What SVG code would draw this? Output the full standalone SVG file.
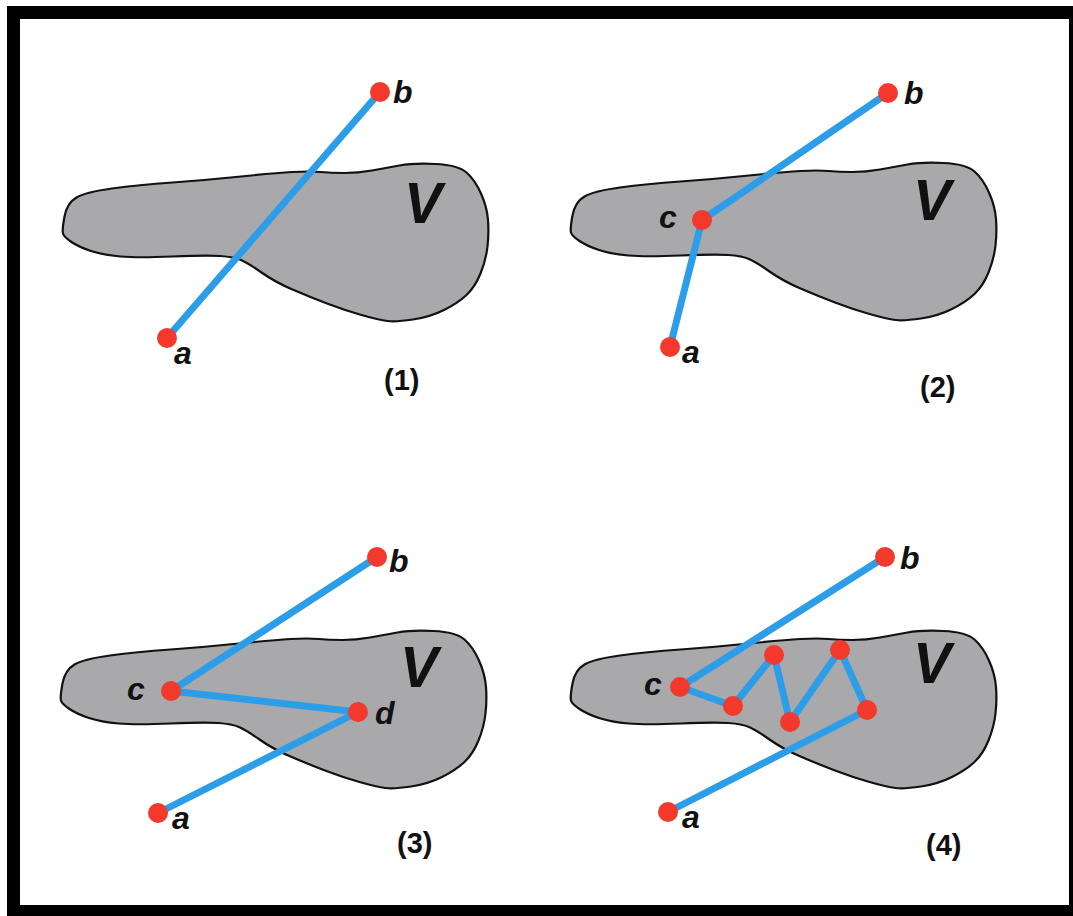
<svg xmlns="http://www.w3.org/2000/svg" xmlns:xlink="http://www.w3.org/1999/xlink" width="1073" height="916" viewBox="0 0 1073 916">
<style>
.blob{fill:#a9a8aa;stroke:#111;stroke-width:2.2;stroke-linejoin:round}
.edge{stroke:#2b9de9;stroke-width:7;stroke-linecap:round;fill:none}
.dot{fill:#f2392b}
.lbl{font-family:"Liberation Sans",Arial,sans-serif;font-weight:bold;font-style:italic;font-size:32px;fill:#111}
.vl{font-family:"Liberation Sans",Arial,sans-serif;font-weight:bold;font-style:italic;font-size:57px;fill:#111}
.num{font-family:"Liberation Sans",Arial,sans-serif;font-weight:bold;font-size:29px;fill:#111}
</style>
<defs>
<path id="region" d="M63,233.5 Q62,230 64.5,216.5 Q67,203 76.5,197.5 Q86,192 112,188.5 Q138,185 172.5,182.5 Q207,180 241,176.5 Q275,173 292.5,172 Q310,171 320.5,172 Q331,173 344.5,173 Q358,173 372,170.5 Q386,168 399.5,165.5 Q413,163 435.5,164 Q458,165 466.5,172.5 Q475,180 481,193.5 Q487,207 488,220 Q489,233 487.5,246.5 Q486,260 480.5,273.5 Q475,287 466.5,295 Q458,303 444,310 Q430,317 413,319.5 Q396,322 387.5,321 Q379,320 361.5,315 Q344,310 327,303.5 Q310,297 292.5,289.5 Q275,282 261.5,272.5 Q248,263 241,260 Q234,257 220.5,256 Q207,255 172.5,256.5 Q138,258 120.5,256.5 Q103,255 91,251 Q79,247 71.5,242 Q64,237 63,233.5 Z"/>
</defs>
<rect x="0" y="0" width="1073" height="916" fill="#fff"/>
<rect id="frame" x="13.5" y="12.5" width="1062" height="899" fill="none" stroke="#000" stroke-width="13"/>

<g id="regions">
<use xlink:href="#region" href="#region" class="blob"/>
<use xlink:href="#region" href="#region" class="blob" transform="translate(508,-1)"/>
<use xlink:href="#region" href="#region" class="blob" transform="translate(-2,467)"/>
<use xlink:href="#region" href="#region" class="blob" transform="translate(508,467)"/>
</g>

<g id="V-labels">
<text class="vl" x="404" y="223">V</text>
<text class="vl" x="913" y="220">V</text>
<text class="vl" x="400" y="687">V</text>
<text class="vl" x="913" y="683">V</text>
</g>

<g id="connectors">
<line class="edge" x1="167" y1="338" x2="380" y2="92"/>
<line class="edge" x1="670" y1="347" x2="702" y2="220"/>
<line class="edge" x1="702" y1="220" x2="888" y2="93"/>
<line class="edge" x1="377" y1="557" x2="171" y2="691"/>
<line class="edge" x1="171" y1="691" x2="358" y2="712"/>
<line class="edge" x1="358" y1="712" x2="158" y2="813"/>
<line class="edge" x1="885" y1="557" x2="680" y2="687"/>
<line class="edge" x1="680" y1="687" x2="733" y2="706"/>
<line class="edge" x1="733" y1="706" x2="774" y2="655"/>
<line class="edge" x1="774" y1="655" x2="790" y2="722"/>
<line class="edge" x1="790" y1="722" x2="840" y2="650"/>
<line class="edge" x1="840" y1="650" x2="867" y2="710"/>
<line class="edge" x1="867" y1="710" x2="668" y2="812"/>
</g>

<g id="panel1">
<g id="p1-a"><circle class="dot" cx="167" cy="338" r="10"/><text class="lbl" x="174" y="364">a</text></g>
<g id="p1-b"><circle class="dot" cx="380" cy="92" r="10"/><text class="lbl" x="393" y="103">b</text></g>
<text class="num" x="384" y="390">(1)</text>
</g>

<g id="panel2">
<g id="p2-a"><circle class="dot" cx="670" cy="347" r="10"/><text class="lbl" x="682" y="363">a</text></g>
<g id="p2-b"><circle class="dot" cx="888" cy="93" r="10"/><text class="lbl" x="904" y="104">b</text></g>
<g id="p2-c"><circle class="dot" cx="702" cy="220" r="10"/><text class="lbl" x="659" y="228">c</text></g>
<text class="num" x="920" y="397">(2)</text>
</g>

<g id="panel3">
<g id="p3-a"><circle class="dot" cx="158" cy="813" r="10"/><text class="lbl" x="172" y="829">a</text></g>
<g id="p3-b"><circle class="dot" cx="377" cy="557" r="10"/><text class="lbl" x="389" y="572">b</text></g>
<g id="p3-c"><circle class="dot" cx="171" cy="691" r="10"/><text class="lbl" x="127" y="700">c</text></g>
<g id="p3-d"><circle class="dot" cx="358" cy="712" r="10"/><text class="lbl" x="375" y="724">d</text></g>
<text class="num" x="397" y="853">(3)</text>
</g>

<g id="panel4">
<g id="p4-a"><circle class="dot" cx="668" cy="812" r="10"/><text class="lbl" x="682" y="828">a</text></g>
<g id="p4-b"><circle class="dot" cx="885" cy="557" r="10"/><text class="lbl" x="900" y="569">b</text></g>
<g id="p4-c"><circle class="dot" cx="680" cy="687" r="10"/><text class="lbl" x="644" y="695">c</text></g>
<g id="p4-n1"><circle class="dot" cx="733" cy="706" r="10"/></g>
<g id="p4-n2"><circle class="dot" cx="774" cy="655" r="10"/></g>
<g id="p4-n3"><circle class="dot" cx="790" cy="722" r="10"/></g>
<g id="p4-n4"><circle class="dot" cx="840" cy="650" r="10"/></g>
<g id="p4-n5"><circle class="dot" cx="867" cy="710" r="10"/></g>
<text class="num" x="926" y="855">(4)</text>
</g>
</svg>
